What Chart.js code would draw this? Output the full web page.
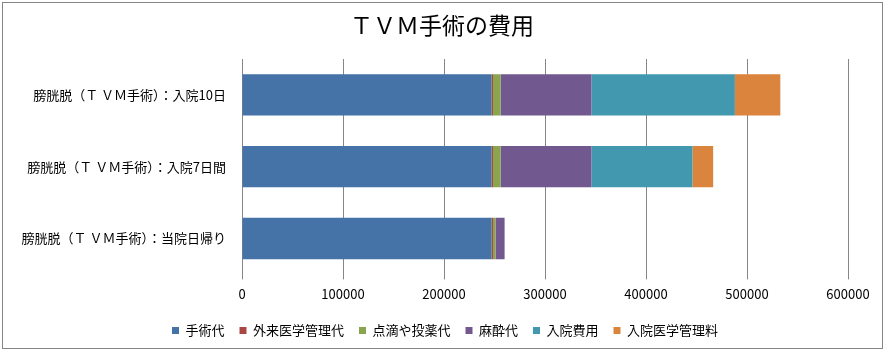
<!DOCTYPE html>
<html>
<head>
<meta charset="utf-8">
<script src="https://cdn.jsdelivr.net/npm/chart.js@4/dist/chart.umd.min.js"></script>
<style>
  html, body { margin: 0; padding: 0; background: #fff; }
  #wrap { position: relative; width: 886px; height: 352px; }
  #frame { position: absolute; left: 2px; top: 2px; width: 879px; height: 345px; border: 1px solid #858585; pointer-events: none; }
  canvas { position: absolute; left: 0; top: 0; }
</style>
</head>
<body>
<div id="wrap">
  <canvas id="c" width="886" height="352"></canvas>
  <div id="frame"></div>
</div>
<script>
const title = "ＴＶＭ手術の費用";
const categories = [
  "膀胱脱（Ｔ ＶＭ手術）：入院10日",
  "膀胱脱（Ｔ ＶＭ手術）：入院7日間",
  "膀胱脱（Ｔ ＶＭ手術）：当院日帰り"
];
const seriesNames = ["手術代", "外来医学管理代", "点滴や投薬代", "麻酔代", "入院費用", "入院医学管理料"];
const shujutsu   = [247000, 247000, 247000];
const gairai     = [1500, 1500, 1500];
const tenteki    = [7500, 7500, 2500];
const masui      = [90000, 90000, 9000];
const nyuin      = [142000, 100000, 0];
const nyuinKanri = [45000, 20500, 0];
const xTicks = [0, 100000, 200000, 300000, 400000, 500000, 600000];

const colors = ["#4572A7", "#AA4643", "#89A54E", "#71588F", "#4198AF", "#DB843D"];
const values = [shujutsu, gairai, tenteki, masui, nyuin, nyuinKanri];

const FONT = "'Noto Sans CJK JP', 'Noto Sans', sans-serif";

const titlePlugin = {
  id: 'centerTitle',
  afterLayout(chart) {
    // centre the legend on the whole picture rather than on the padded box
    const lg = chart.legend;
    if (lg) { lg.left += 21; lg.right += 21; }
  },
  afterDraw(chart) {
    const ctx = chart.ctx;
    ctx.save();
    ctx.fillStyle = '#000';
    ctx.font = "23px 'Liberation Serif', 'Noto Sans CJK JP', serif";
    ctx.textAlign = 'center';
    ctx.textBaseline = 'middle';
    ctx.fillText(title, 442, 28);
    ctx.restore();
  }
};

new Chart(document.getElementById('c'), {
  type: 'bar',
  data: {
    labels: categories,
    datasets: seriesNames.map((n, i) => ({
      label: n,
      data: values[i],
      backgroundColor: colors[i],
      borderWidth: 0,
      categoryPercentage: 1,
      barPercentage: 0.575
    }))
  },
  plugins: [titlePlugin],
  options: {
    indexAxis: 'y',
    responsive: false,
    animation: false,
    layout: { padding: { left: 0, right: 38, top: 59, bottom: 5 } },
    plugins: {
      tooltip: { enabled: false },
      title: { display: false },
      legend: {
        position: 'bottom',
        labels: {
          boxWidth: 7,
          boxHeight: 7,
          padding: 15,
          color: '#000',
          font: { family: FONT, size: 13 }
        }
      }
    },
    scales: {
      x: {
        stacked: true,
        min: 0,
        max: 600000,
        afterBuildTicks: (s) => { s.ticks = xTicks.map(v => ({ value: v })); },
        ticks: {
          color: '#000',
          font: { family: FONT, size: 13 },
          padding: 7,
          maxRotation: 0,
          callback: (v) => String(v)
        },
        grid: { color: '#868686', lineWidth: 1, tickLength: 5, drawTicks: true },
        border: { display: false }
      },
      y: {
        stacked: true,
        afterFit: (s) => { s.width = 242; },
        ticks: {
          color: '#000',
          font: { family: FONT, size: 13 },
          padding: 8
        },
        grid: { display: false },
        border: { display: true, color: '#868686', width: 1 }
      }
    }
  }
});
</script>
</body>
</html>
